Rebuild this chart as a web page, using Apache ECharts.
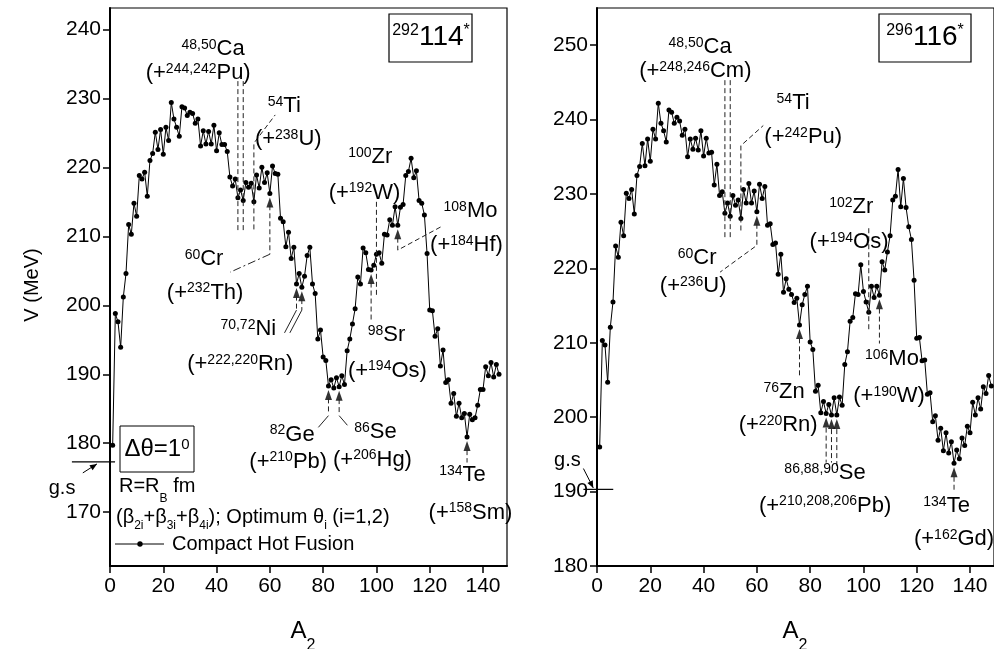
<!DOCTYPE html>
<html>
<head>
<meta charset="utf-8">
<script src="https://cdn.jsdelivr.net/npm/echarts@6/dist/echarts.min.js"></script>
<style>
  html, body { margin: 0; padding: 0; background: #fff; }
  #c { width: 994px; height: 649px; }
</style>
</head>
<body>
<div id="c"></div>
<script>
// Fragment mass numbers A2 for the two compound systems
const leftA2 = [
  1, 2, 3, 4, 5, 6, 7, 8, 9, 10, 11, 12, 13, 14, 15, 16, 17, 18, 19, 20,
  21, 22, 23, 24, 25, 26, 27, 28, 29, 30, 31, 32, 33, 34, 35, 36, 37, 38, 39, 40,
  41, 42, 43, 44, 45, 46, 47, 48, 49, 50, 51, 52, 53, 54, 55, 56, 57, 58, 59, 60,
  61, 62, 63, 64, 65, 66, 67, 68, 69, 70, 71, 72, 73, 74, 75, 76, 77, 78, 79, 80,
  81, 82, 83, 84, 85, 86, 87, 88, 89, 90, 91, 92, 93, 94, 95, 96, 97, 98, 99, 100,
  101, 102, 103, 104, 105, 106, 107, 108, 109, 110, 111, 112, 113, 114, 115, 116, 117, 118, 119, 120,
  121, 122, 123, 124, 125, 126, 127, 128, 129, 130, 131, 132, 133, 134, 135, 136, 137, 138, 139, 140,
  141, 142, 143, 144, 145, 146
];
// Barrier V (MeV) for 292-114*
const leftV = [
  179.7, 198.8, 197.6, 193.9, 201.2, 204.6, 211.7, 210.3, 214.8, 212.9,
  218.8, 218.3, 219.3, 215.8, 221.0, 222.0, 225.1, 222.6, 225.5, 221.9,
  225.8, 223.9, 229.4, 227.0, 225.8, 224.5, 228.8, 228.6, 227.5, 228.0,
  227.8, 226.4, 227.0, 223.1, 225.3, 223.4, 225.2, 223.4, 226.1, 222.4,
  225.0, 223.3, 223.3, 222.3, 218.6, 217.3, 218.3, 215.6, 216.7, 215.2,
  217.8, 217.1, 217.7, 215.0, 218.9, 217.0, 220.0, 217.8, 219.2, 216.2,
  220.2, 219.1, 219.0, 212.6, 212.1, 208.5, 210.6, 206.8, 208.4, 203.1,
  204.6, 202.6, 204.2, 207.2, 208.4, 203.1, 201.7, 195.1, 196.4, 192.5,
  192.0, 188.3, 189.2, 188.0, 189.5, 188.2, 189.8, 188.5, 193.4, 195.1,
  197.3, 199.5, 204.1, 203.1, 208.3, 207.6, 205.2, 205.1, 205.8, 207.4,
  207.6, 206.1, 210.3, 210.2, 212.4, 211.6, 214.3, 211.6, 214.2, 214.6,
  218.8, 219.4, 221.3, 218.5, 219.5, 215.2, 214.8, 213.1, 207.5, 199.3,
  199.2, 195.5, 196.6, 191.2, 193.5, 188.8, 189.2, 185.8, 187.2, 183.9,
  185.8, 183.7, 184.3, 180.9, 184.2, 183.4, 183.7, 185.5, 187.8, 187.8,
  191.1, 189.8, 191.7, 189.6, 191.4, 190.0
];
const rightA2 = [
  1, 2, 3, 4, 5, 6, 7, 8, 9, 10, 11, 12, 13, 14, 15, 16, 17, 18, 19, 20,
  21, 22, 23, 24, 25, 26, 27, 28, 29, 30, 31, 32, 33, 34, 35, 36, 37, 38, 39, 40,
  41, 42, 43, 44, 45, 46, 47, 48, 49, 50, 51, 52, 53, 54, 55, 56, 57, 58, 59, 60,
  61, 62, 63, 64, 65, 66, 67, 68, 69, 70, 71, 72, 73, 74, 75, 76, 77, 78, 79, 80,
  81, 82, 83, 84, 85, 86, 87, 88, 89, 90, 91, 92, 93, 94, 95, 96, 97, 98, 99, 100,
  101, 102, 103, 104, 105, 106, 107, 108, 109, 110, 111, 112, 113, 114, 115, 116, 117, 118, 119, 120,
  121, 122, 123, 124, 125, 126, 127, 128, 129, 130, 131, 132, 133, 134, 135, 136, 137, 138, 139, 140,
  141, 142, 143, 144, 145, 146, 147, 148
];
// Barrier V (MeV) for 296-116*
const rightV = [
  196.0, 210.3, 209.7, 204.7, 212.1, 215.5, 223.0, 221.5, 226.2, 224.4,
  230.1, 229.4, 230.6, 227.3, 232.5, 233.7, 236.8, 233.8, 237.4, 234.4,
  238.7, 237.4, 242.2, 239.5, 238.5, 237.0, 241.3, 241.0, 239.5, 240.3,
  239.8, 237.9, 238.7, 235.0, 237.4, 236.0, 237.5, 235.9, 238.5, 235.1,
  237.5, 235.5, 235.6, 231.2, 234.0, 229.8, 230.3, 227.4, 228.8, 227.0,
  229.8, 228.5, 229.2, 226.7, 230.6, 228.8, 231.4, 228.8, 230.4, 227.6,
  231.3, 229.4, 231.0, 225.8, 226.0, 223.2, 223.4, 219.2, 221.9, 216.8,
  218.6, 217.2, 216.5, 215.4, 216.0, 212.4, 215.1, 216.5, 217.6, 210.1,
  209.1, 203.5, 204.3, 200.6, 202.1, 200.5, 201.7, 200.3, 202.6, 200.3,
  202.7, 201.6, 207.1, 208.8, 212.9, 213.4, 216.6, 216.5, 220.5, 216.9,
  215.5, 214.1, 217.6, 216.1, 217.6, 216.4, 220.9, 219.8, 222.2, 224.4,
  229.2, 229.7, 233.3, 228.3, 232.1, 228.2, 225.6, 223.9, 218.4, 210.6,
  210.7, 207.6, 207.7, 203.1, 203.3, 199.4, 200.2, 196.9, 198.5, 195.5,
  197.9, 195.2, 196.7, 193.8, 195.6, 194.4, 197.2, 196.2, 198.8, 197.9,
  202.0, 200.3, 202.6, 201.1, 204.1, 203.2, 205.6, 204.2
];
// Fragments flagged with an arrow
const leftMarked = [60, 70, 72, 82, 86, 98, 108, 134];
const rightMarked = [60, 76, 86, 88, 90, 106, 134];
// Tick labels
const xTicks = [0, 20, 40, 60, 80, 100, 120, 140];
const leftYTicks = [170, 180, 190, 200, 210, 220, 230, 240];
const rightYTicks = [180, 190, 200, 210, 220, 230, 240, 250];
// Ground-state reference energies (MeV)
const leftGs = 177.3;
const rightGs = 190.3;

// Reaction labels: text, A2 position, V position (axis units)
const leftNotes = [
  ['^{48,50}Ca', 38.7, 237.0],
  ['(+^{244,242}Pu)', 33.1, 233.5],
  ['^{54}Ti', 65.4, 228.7],
  ['(+^{238}U)', 66.9, 224.0],
  ['^{60}Cr', 35.3, 206.6],
  ['(+^{232}Th)', 35.7, 201.7],
  ['^{70,72}Ni', 51.9, 196.4],
  ['(+^{222,220}Rn)', 48.9, 191.3],
  ['^{82}Ge', 68.4, 181.1],
  ['(+^{210}Pb)', 66.9, 177.2],
  ['^{86}Se', 99.6, 181.5],
  ['(+^{206}Hg)', 98.5, 177.5],
  ['^{98}Sr', 103.8, 195.5],
  ['(+^{194}Os)', 104.1, 190.4],
  ['^{100}Zr', 97.7, 221.3],
  ['(+^{192}W)', 95.5, 216.2],
  ['^{108}Mo', 135.3, 213.5],
  ['(+^{184}Hf)', 133.8, 208.6],
  ['^{134}Te', 132.3, 175.3],
  ['(+^{158}Sm)', 135.3, 169.8]
];
const rightNotes = [
  ['^{48,50}Ca', 38.7, 249.6],
  ['(+^{248,246}Cm)', 36.9, 246.4],
  ['^{54}Ti', 73.6, 242.1],
  ['(+^{242}Pu)', 77.4, 237.5],
  ['^{60}Cr', 37.6, 221.3],
  ['(+^{236}U)', 36.1, 217.5],
  ['^{102}Zr', 95.4, 228.1],
  ['(+^{194}Os)', 94.6, 223.4],
  ['^{76}Zn', 70.2, 203.3],
  ['(+^{220}Rn)', 68.0, 198.8],
  ['^{106}Mo', 110.7, 207.7],
  ['(+^{190}W)', 109.6, 202.7],
  ['^{86,88,90}Se', 85.6, 192.4],
  ['(+^{210,208,206}Pb)', 85.6, 188.0],
  ['^{134}Te', 131.2, 187.9],
  ['(+^{162}Gd)', 134.0, 183.5]
];

// Leader lines joining labels to fragments (axis units)
const leftLeaders = [
  { k: 'dash', pts: [[48, 232.5], [48, 210.5]] },
  { k: 'dash', pts: [[50, 232.5], [50, 210.5]] },
  { k: 'dash', pts: [[54, 211.0], [54, 223.5], [62, 227.6]] },
  { k: 'dash', pts: [[60, 214.5], [60, 207.4]] },
  { k: 'dashdot', pts: [[60, 207.4], [45.1, 204.8]] },
  { k: 'dash', pts: [[70, 201.4], [70, 199.3]] },
  { k: 'dash', pts: [[72, 200.9], [72, 199.3]] },
  { k: 'solid', pts: [[70, 199.3], [65.5, 196.0]] },
  { k: 'solid', pts: [[72, 199.3], [67.5, 196.0]] },
  { k: 'dash', pts: [[82, 186.5], [82, 184.2]] },
  { k: 'solid', pts: [[82, 184.0], [78.2, 182.3]] },
  { k: 'dash', pts: [[86, 186.4], [86, 184.2]] },
  { k: 'solid', pts: [[86, 184.0], [89.1, 182.6]] },
  { k: 'dash', pts: [[98, 203.3], [98, 197.9]] },
  { k: 'dash', pts: [[100, 215.0], [100, 201.2]] },
  { k: 'dash', pts: [[108, 209.8], [108, 208.0], [124.8, 211.5]] },
  { k: 'dash', pts: [[134, 179.0], [134, 177.2]] }
];
const rightLeaders = [
  { k: 'dash', pts: [[48, 245.3], [48, 224.2]] },
  { k: 'dash', pts: [[50, 245.3], [50, 224.2]] },
  { k: 'dash', pts: [[54, 225.1], [54, 236.5], [62.4, 239.2]] },
  { k: 'dash', pts: [[60, 226.0], [60, 223.1], [46.2, 219.5]] },
  { k: 'dash', pts: [[76, 210.6], [76, 205.4]] },
  { k: 'dash', pts: [[86, 198.6], [86, 193.9]] },
  { k: 'dash', pts: [[88, 198.4], [88, 193.9]] },
  { k: 'dash', pts: [[90, 198.4], [90, 192.9]] },
  { k: 'dash', pts: [[102, 225.4], [102, 211.7]] },
  { k: 'dash', pts: [[106, 214.6], [106, 209.9]] },
  { k: 'dash', pts: [[134, 192.0], [134, 190.2]] }
];

const FONT = '"Liberation Sans", Arial, Helvetica, sans-serif';
const RICH = {};
// m: plain text, s: raised, b: lowered (drop set by bh)
function addSet(k, m, mh, s, b, bh) {
  RICH[k + 'm'] = { fontFamily: FONT, fontSize: m, lineHeight: mh, verticalAlign: 'top', color: '#000' };
  RICH[k + 's'] = { fontFamily: FONT, fontSize: s, verticalAlign: 'top', color: '#000' };
  RICH[k + 'b'] = { fontFamily: FONT, fontSize: b, lineHeight: bh, verticalAlign: 'bottom', color: '#000' };
}
addSet('a', 22, 24, 14, 13, 30);   // reaction labels
addSet('t', 20, 22, 13, 12, 25);   // notes inside the frame
addSet('r', 20, 22, 13, 12, 29);   // radius note
addSet('d', 24, 26, 15, 13, 30);   // delta-theta box
addSet('h', 28, 30, 16, 13, 30);   // compound nucleus box
addSet('x', 24, 26, 16, 16, 35);   // axis title

// "^{..}" raises, "_{..}" lowers, the rest is plain text
function toRich(str, k) {
  let out = '';
  const re = /\^\{([^}]*)\}|_\{([^}]*)\}|([^^_]+)/g;
  let m;
  while ((m = re.exec(str))) {
    if (m[1] !== undefined) out += '{' + k + 's|' + m[1] + '}';
    else if (m[2] !== undefined) out += '{' + k + 'b|' + m[2] + '}';
    else out += '{' + k + 'm|' + m[3] + '}';
  }
  return out;
}
function textEl(str, x, y, k, align, rot) {
  return {
    type: 'text', x: x, y: y, rotation: rot || 0, silent: true, z: 20,
    style: { text: toRich(str, k), rich: RICH, align: align || 'center', verticalAlign: 'top' }
  };
}

const DASH = { dash: [5, 3], dashdot: [8, 3, 2, 3], solid: null };
const AXIS_COLOR = '#000';

function makeAxes(gi, ymin, ymax, yTicks) {
  return {
    x: {
      gridIndex: gi, type: 'value', min: 0, max: 149,
      axisLine: { onZero: false, lineStyle: { color: AXIS_COLOR, width: 2 } },
      axisTick: { customValues: xTicks, length: 7, lineStyle: { color: AXIS_COLOR, width: 1.5 } },
      axisLabel: { customValues: xTicks, fontSize: 21, color: '#000', fontFamily: FONT, margin: 10 },
      splitLine: { show: false }
    },
    y: {
      gridIndex: gi, type: 'value', min: ymin, max: ymax,
      axisLine: { onZero: false, lineStyle: { color: AXIS_COLOR, width: 2 } },
      axisTick: { customValues: yTicks, length: 7, lineStyle: { color: AXIS_COLOR, width: 1.5 } },
      axisLabel: { customValues: yTicks, fontSize: 21, color: '#000', fontFamily: FONT, margin: 9 },
      splitLine: { show: false }
    }
  };
}
const axL = makeAxes(0, 162.2, 243.1, leftYTicks);
const axR = makeAxes(1, 180, 255, rightYTicks);

function curve(xi, a2, v) {
  return {
    type: 'line', xAxisIndex: xi, yAxisIndex: xi,
    data: a2.map((a, i) => [a, v[i]]),
    symbol: 'circle', symbolSize: 5, showAllSymbol: true,
    lineStyle: { color: '#000', width: 1 },
    itemStyle: { color: '#000' },
    z: 3, animation: false
  };
}
function arrows(xi, a2, v, marked) {
  return {
    type: 'scatter', xAxisIndex: xi, yAxisIndex: xi,
    data: marked.map(a => [a, v[a2.indexOf(a)]]),
    symbol: 'triangle', symbolSize: [7, 10], symbolOffset: [0, 9],
    itemStyle: { color: '#000' }, z: 2, animation: false
  };
}

const chart = echarts.init(document.getElementById('c'), null, { renderer: 'canvas' });
chart.setOption({
  animation: false,
  backgroundColor: '#fff',
  grid: [
    { left: 110, right: 487, top: 8, bottom: 83, show: true, borderColor: '#000', borderWidth: 1.2 },
    { left: 597, right: 0, top: 8, bottom: 83, show: true, borderColor: '#000', borderWidth: 1.2 }
  ],
  xAxis: [axL.x, axR.x],
  yAxis: [axL.y, axR.y],
  series: [
    curve(0, leftA2, leftV),
    arrows(0, leftA2, leftV, leftMarked),
    curve(1, rightA2, rightV),
    arrows(1, rightA2, rightV, rightMarked)
  ]
});

function px(g, a, v) { return chart.convertToPixel({ gridIndex: g }, [a, v]); }
const G = [];

function addNotes(g, notes) {
  notes.forEach(([s, a, v]) => {
    const p = px(g, a, v);
    G.push(textEl(s, p[0], p[1] - 12, 'a', 'center'));
  });
}
function addLeaders(g, leaders) {
  leaders.forEach(L => {
    G.push({
      type: 'polyline', silent: true, z: 5,
      shape: { points: L.pts.map(q => px(g, q[0], q[1])) },
      style: { stroke: '#222', lineWidth: 1, fill: null, lineDash: DASH[L.k] }
    });
  });
}
function arrowTo(p0, p1) {
  G.push({ type: 'line', silent: true, z: 5, shape: { x1: p0[0], y1: p0[1], x2: p1[0], y2: p1[1] },
           style: { stroke: '#000', lineWidth: 1 } });
  const ang = Math.atan2(p1[1] - p0[1], p1[0] - p0[0]);
  const L = 7, W = 3;
  const bx = p1[0] - L * Math.cos(ang), by = p1[1] - L * Math.sin(ang);
  G.push({ type: 'polygon', silent: true, z: 5, shape: { points: [
    p1, [bx + W * Math.sin(ang), by - W * Math.cos(ang)], [bx - W * Math.sin(ang), by + W * Math.cos(ang)]
  ] }, style: { fill: '#000' } });
}
function groundState(g, gs, a0, a1, tail, head, label) {
  const l0 = px(g, a0, gs), l1 = px(g, a1, gs);
  G.push({ type: 'line', silent: true, z: 5, shape: { x1: l0[0], y1: l0[1], x2: l1[0], y2: l1[1] },
           style: { stroke: '#000', lineWidth: 1.2 } });
  arrowTo(px(g, tail[0], tail[1]), px(g, head[0], gs + head[1]));
  const t = px(g, label[0], label[1]);
  G.push(textEl('g.s', t[0], t[1] - 11, 't', 'center'));
}

addLeaders(0, leftLeaders);
addLeaders(1, rightLeaders);
addNotes(0, leftNotes);
addNotes(1, rightNotes);
groundState(0, leftGs, -14.3, 1.9, [-10.2, 175.7], [-4.9, -0.3], [-18.0, 173.3]);
groundState(1, rightGs, -5.1, 6.1, [-5.1, 193.1], [-1.4, 0.2], [-11.1, 194.1]);

// Compound-nucleus boxes
G.push({ type: 'rect', silent: true, z: 20, shape: { x: 389, y: 14, width: 83, height: 48 },
         style: { fill: '#fff', stroke: '#000', lineWidth: 1.2 } });
G.push(textEl('^{292}114^{*}', 431, 23, 'h', 'center'));
G.push({ type: 'rect', silent: true, z: 20, shape: { x: 879, y: 14, width: 92, height: 48 },
         style: { fill: '#fff', stroke: '#000', lineWidth: 1.2 } });
G.push(textEl('^{296}116^{*}', 925, 23, 'h', 'center'));

// Calculation notes and legend
G.push({ type: 'rect', silent: true, z: 20, shape: { x: 120, y: 426, width: 74, height: 46 },
         style: { fill: '#fff', stroke: '#000', lineWidth: 1 } });
G.push(textEl('Δθ=1^{0}', 157, 437, 'd', 'center'));
G.push(textEl('R=R_{B} fm', 119, 476, 'r', 'left'));
G.push(textEl('(β_{2i}+β_{3i}+β_{4i}); Optimum θ_{i} (i=1,2)', 116, 507, 't', 'left'));
G.push({ type: 'line', silent: true, z: 20, shape: { x1: 115, y1: 544, x2: 164, y2: 544 },
         style: { stroke: '#000', lineWidth: 1 } });
G.push({ type: 'circle', silent: true, z: 20, shape: { cx: 140, cy: 544, r: 2.7 }, style: { fill: '#000' } });
G.push(textEl('Compact Hot Fusion', 172, 534, 't', 'left'));

// Axis titles
G.push(textEl('A_{2}', 303, 619, 'x', 'center'));
G.push(textEl('A_{2}', 795, 619, 'x', 'center'));
G.push(textEl('V (MeV)', 22, 285, 't', 'center', Math.PI / 2));

chart.setOption({ graphic: G });
</script>
</body>
</html>
